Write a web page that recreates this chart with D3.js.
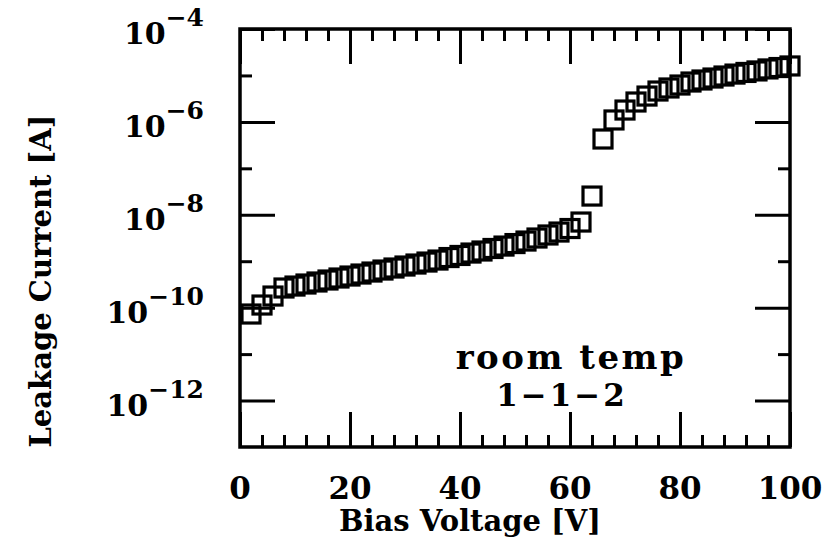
<!DOCTYPE html>
<html>
<head>
<meta charset="utf-8">
<script src="https://cdn.jsdelivr.net/npm/d3@7/dist/d3.min.js"></script>
<style>
  html, body { margin: 0; padding: 0; background: #fff; }
  svg { display: block; }
  text { font-family: "DejaVu Serif", serif; font-weight: bold; fill: #000; }
</style>
</head>
<body>
<svg id="chart" width="828" height="539"></svg>
<script>
// ---- data ----
const voltage = [2, 4, 6, 8, 10, 12, 14, 16, 18, 20, 22, 24, 26, 28, 30, 32, 34, 36, 38, 40,
                 42, 44, 46, 48, 50, 52, 54, 56, 58, 60, 62, 64, 66, 68, 70, 72, 74, 76, 78, 80,
                 82, 84, 86, 88, 90, 92, 94, 96, 98, 100];
const current = [7.3e-11, 1.14e-10, 1.78e-10, 2.65e-10, 2.92e-10, 3.23e-10, 3.57e-10, 3.94e-10, 4.35e-10, 4.8e-10,
                 5.3e-10, 5.85e-10, 6.46e-10, 7.14e-10, 7.88e-10, 8.7e-10, 9.6e-10, 1.06e-9, 1.2e-9, 1.33e-9,
                 1.5e-9, 1.66e-9, 1.88e-9, 2.12e-9, 2.4e-9, 2.72e-9, 3.16e-9, 3.67e-9, 4.25e-9, 5.06e-9,
                 6.98e-9, 2.53e-8, 4.28e-7, 1.1e-6, 1.8e-6, 2.68e-6, 3.6e-6, 4.62e-6, 5.37e-6, 6.22e-6,
                 7.22e-6, 7.98e-6, 8.8e-6, 9.72e-6, 1.07e-5, 1.16e-5, 1.25e-5, 1.38e-5, 1.48e-5, 1.6e-5];
const xMajorTicks = [0, 20, 40, 60, 80, 100];
const xMinorTicks = [4, 8, 12, 16, 24, 28, 32, 36, 44, 48, 52, 56, 64, 68, 72, 76, 84, 88, 92, 96];
const yMajorExp = [-4, -6, -8, -10, -12];
const yMinorExp = [-5, -7, -9, -11];
const xTitle = "Bias Voltage [V]";
const yTitle = "Leakage Current [A]";
const noteLines = ["room temp", "1\u22121\u22122"];

// ---- layout ----
const pL = 240, pR = 790, pT = 29, pB = 447;
const svg = d3.select("#chart");
const x = d3.scaleLinear().domain([0, 100]).range([pL, pR]);
const y = d3.scaleLog().domain([1e-13, 1e-4]).range([pB, pT]);

const majorLen = 35, minorLen = 12, tickW = 3;

const yMaj = yMajorExp.map(e => Math.pow(10, e));
const yMin = yMinorExp.map(e => Math.pow(10, e));
const axes = [
  [d3.axisBottom(x).tickValues(xMajorTicks).tickSize(-majorLen), 0, pB],
  [d3.axisBottom(x).tickValues(xMinorTicks).tickSize(-minorLen), 0, pB],
  [d3.axisTop(x).tickValues(xMajorTicks).tickSize(-majorLen), 0, pT],
  [d3.axisTop(x).tickValues(xMinorTicks).tickSize(-minorLen), 0, pT],
  [d3.axisLeft(y).tickValues(yMaj).tickSize(-majorLen), pL, 0],
  [d3.axisLeft(y).tickValues(yMin).tickSize(-minorLen), pL, 0],
  [d3.axisRight(y).tickValues(yMaj).tickSize(-majorLen), pR, 0],
  [d3.axisRight(y).tickValues(yMin).tickSize(-minorLen), pR, 0]
];
axes.forEach(([ax, tx, ty]) => {
  const g = svg.append("g").attr("transform", `translate(${tx},${ty})`).call(ax.tickFormat(""));
  g.select(".domain").remove();
  g.selectAll(".tick text").remove();
  g.selectAll(".tick line").attr("stroke", "#000").attr("stroke-width", tickW);
});

// frame
svg.append("rect").attr("x", pL).attr("y", pT).attr("width", pR - pL).attr("height", pB - pT)
  .attr("fill", "none").attr("stroke", "#000").attr("stroke-width", 3.5);

// x tick labels
svg.append("g").selectAll("text").data(xMajorTicks).join("text")
  .attr("x", d => x(d)).attr("y", 499).attr("text-anchor", "middle")
  .attr("font-size", 31).text(d => d);

// y tick labels 10^exp
const yl = svg.append("g").selectAll("text").data(yMajorExp).join("text")
  .attr("x", 204).attr("y", d => y(Math.pow(10, d)) + 15).attr("text-anchor", "end")
  .attr("font-size", 30);
yl.append("tspan").text("10");
yl.append("tspan").attr("dy", -18).attr("font-size", 25).text(d => "\u2212" + Math.abs(d));

// titles
svg.append("text").attr("x", 470).attr("y", 531).attr("text-anchor", "middle")
  .attr("font-size", 29).text(xTitle);
svg.append("text").attr("transform", "translate(51,281) rotate(-90)").attr("text-anchor", "middle")
  .attr("font-size", 29).text(yTitle);

// annotation (two lines)
svg.append("text").attr("text-anchor", "middle").attr("x", 571).attr("y", 369)
  .attr("font-size", 34).attr("letter-spacing", 2.5).text(noteLines[0]);
svg.append("text").attr("text-anchor", "middle").attr("x", 562).attr("y", 406)
  .attr("font-size", 31).attr("letter-spacing", 3).text(noteLines[1]);

// data: open squares
const s = 18;
svg.append("g").selectAll("rect").data(voltage.map((v, i) => [v, current[i]])).join("rect")
  .attr("x", d => x(d[0]) - s / 2).attr("y", d => y(d[1]) - s / 2)
  .attr("width", s).attr("height", s)
  .attr("fill", "none").attr("stroke", "#000").attr("stroke-width", 3.2);
</script>
</body>
</html>
